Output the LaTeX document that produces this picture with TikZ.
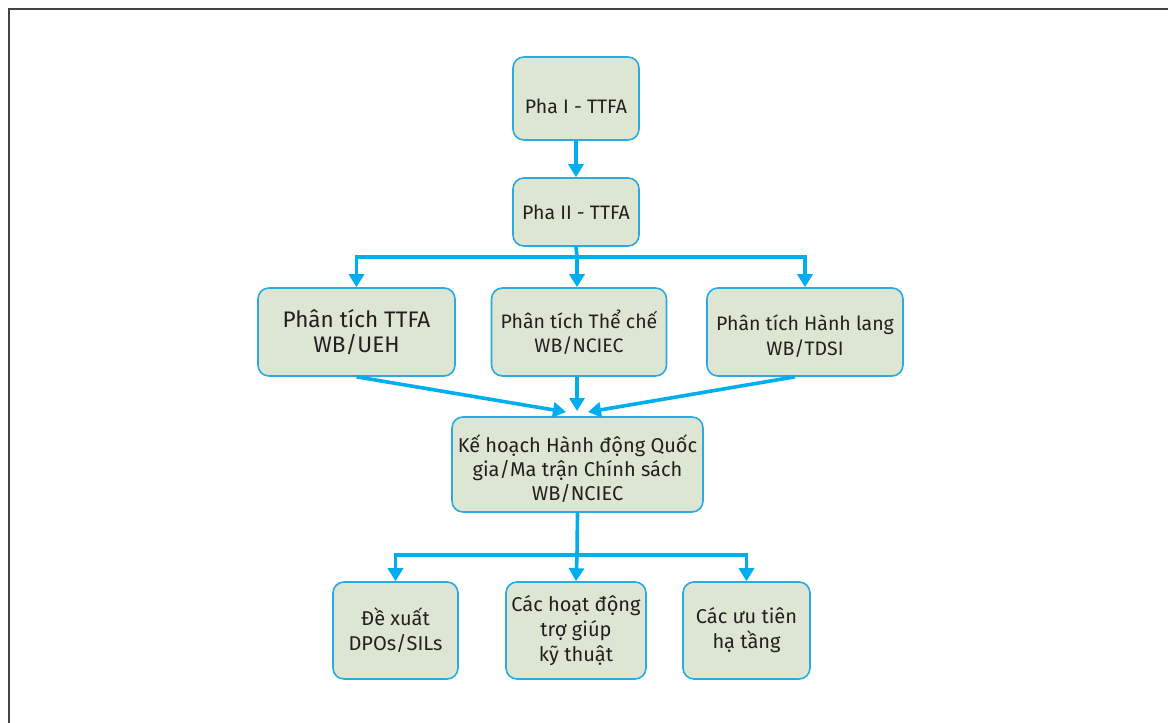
\documentclass[tikz,border=0pt]{standalone}
\usepackage{fontspec}
\setmainfont{Fira Sans}
\usetikzlibrary{arrows.meta}
\definecolor{boxfill}{HTML}{DDE6D2}
\definecolor{boxline}{HTML}{29ABE2}
\definecolor{arrcol}{HTML}{00AEEF}
\definecolor{txt}{HTML}{231F20}
\definecolor{frame}{HTML}{444444}
\begin{document}
\begin{tikzpicture}[x=1pt,y=-1pt,
  box/.style={draw=boxline,fill=boxfill,line width=1.6pt,rounded corners=11pt,
    align=center,text=txt,inner sep=0pt,
    font=\fontsize{19.5}{24.5}\selectfont},
  arr/.style={draw=arrcol,line width=3.6pt,line join=miter,
    -{Triangle[length=13pt,width=15pt]}},
  ln/.style={draw=arrcol,line width=3.6pt}]
\useasboundingbox (0,0) rectangle (1168,723);
\draw[frame,line width=2pt] (9,723) -- (9,9) -- (1168,9);

\node[box,minimum width=126pt,minimum height=83pt,text height=29pt,text depth=0pt] (p1) at (576,98.5) {Pha I - TTFA};
\node[box,minimum width=126pt,minimum height=68pt] (p2) at (576,212) {Pha II - TTFA};

\node[box,minimum width=197pt,minimum height=88pt,font=\fontsize{22.5}{25}\selectfont] (a) at (356.5,332) {Phân tích TTFA\\WB/UEH};
\node[box,minimum width=175pt,minimum height=88pt] (b) at (579,332) {Phân tích Thể chế\\WB/NCIEC};
\node[box,minimum width=196pt,minimum height=88pt] (c) at (805,332) {\rule{0pt}{24pt}Phân tích Hành lang\\WB/TDSI};

\node[box,minimum width=251pt,minimum height=95pt,font=\fontsize{20}{24}\selectfont] (k) at (577.5,464.5) {\rule{0pt}{26pt}Kế hoạch Hành động Quốc\\gia/Ma trận Chính sách\\WB/NCIEC};

\node[box,minimum width=125pt,minimum height=97pt,font=\fontsize{20}{25}\selectfont] (d1) at (395.5,630.5) {Đề xuất\\DPOs/SILs};
\node[box,minimum width=140pt,minimum height=97pt,font=\fontsize{20}{25}\selectfont] (d2) at (576,630.5) {Các hoạt động\\trợ giúp\\kỹ thuật};
\node[box,minimum width=127pt,minimum height=97pt,font=\fontsize{20}{25}\selectfont] (d3) at (746.5,630.5) {Các ưu tiên\\hạ tầng};

\coordinate (s1) at (577,257);
\coordinate (s2) at (577,555);
\coordinate (ml) at (566,412);
\coordinate (mm) at (577,411);
\coordinate (mr) at (588,412);

\draw[arr] (p1.south) -- (p2.north);
\draw[ln] (p2.south) -- (s1);
\draw[arr] (s1) -| (a.north);
\draw[arr] (s1) -| (c.north);
\draw[arr] (s1) -- (s1 |- b.north);

\draw[arr] (a.south) -- (ml);
\draw[arr] (s1 |- b.south) -- (mm);
\draw[arr] ([xshift=-10pt]c.south) -- (mr);

\draw[ln] (k.south) -- (s2);
\draw[arr] (s2) -| (d1.north);
\draw[arr] (s2) -| (d3.north);
\draw[arr] (s2) -- (d2.north);
\end{tikzpicture}
\end{document}
